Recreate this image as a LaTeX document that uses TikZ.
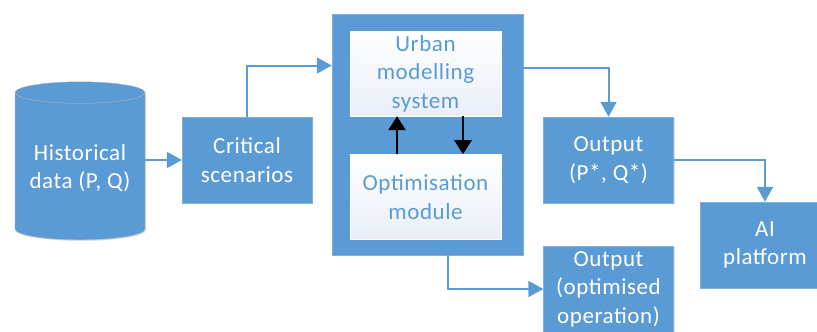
\documentclass[tikz,border=0pt]{standalone}
\usepackage{fontspec}
\setmainfont{Carlito}[LetterSpace=2.5]
\usetikzlibrary{arrows.meta,positioning,shapes.geometric,shadows}
\definecolor{boxblue}{HTML}{5B9BD5}
\definecolor{edgeblue}{HTML}{7EB0DE}
\definecolor{innerbot}{HTML}{E9EEF7}

\begin{document}
\begin{tikzpicture}[
		x=1pt, y=-1pt,
		font=\fontsize{23}{28.5}\selectfont,
		arrow/.style={-{Triangle[width=16pt,length=15pt]}, line width=2pt, draw=boxblue},
		feedback/.style={-{Triangle[width=17pt,length=14pt]}, line width=2.6pt},
		shadowed/.style={drop shadow={shadow xshift=1.2pt, shadow yshift=-1.2pt, opacity=0.25}},
		block/.style={draw=edgeblue, fill=boxblue, text=white, minimum width=130pt, minimum height=86pt, align=center, shadowed},
		inner/.style={draw=white, top color=white, bottom color=innerbot, text=boxblue, minimum width=151pt, minimum height=85pt, align=center},
	]
		\useasboundingbox (0,0) rectangle (817,332);
		\clip (0,0) rectangle (817,332);
		\node (hist) [shape=cylinder, shape border rotate=90, aspect=0.2, draw=gray!60, fill=boxblue, text=white, align=center, minimum width=130pt, minimum height=158pt, anchor=south, shadowed] at (80,240) {Historical\\data (P, Q)};
		\node (crit) [block] at (247,160) {Critical\\scenarios};
		\node (outer) [block, minimum width=191pt, minimum height=241pt] at (427.5,134.5) {};
		\node (urban) [inner] at (425.5,73.5) {Urban\\modelling\\system};
		\node (optim) [inner, below=38pt of urban] {Optimisation\\module};
		\node (outpq) [block] at (608.5,160) {Output\\(P*, Q*)};
		\node (ai) [block] at (765,245) {AI\\platform};
		\node (outop) [block] at (608.5,289) {Output\\(optimised\\operation)};
		
		\draw[arrow] (crit.west -| hist.east) -- (crit.west);
		\draw[arrow] (crit.north) |- ([yshift=69pt]outer.west);
		\draw[arrow] ([yshift=67pt]outer.east) -| (outpq.north);
		\draw[arrow] (outpq.east) -| (ai.north);
		\draw[arrow] ([xshift=20.5pt]outer.south) |- (outop.west);
		\draw[feedback] ([xshift=-28.5pt]optim.north) -- ([xshift=-28.5pt]urban.south);
		\draw[feedback] ([xshift=37.5pt]urban.south) -- ([xshift=37.5pt]optim.north);
	\end{tikzpicture}
\end{document}
